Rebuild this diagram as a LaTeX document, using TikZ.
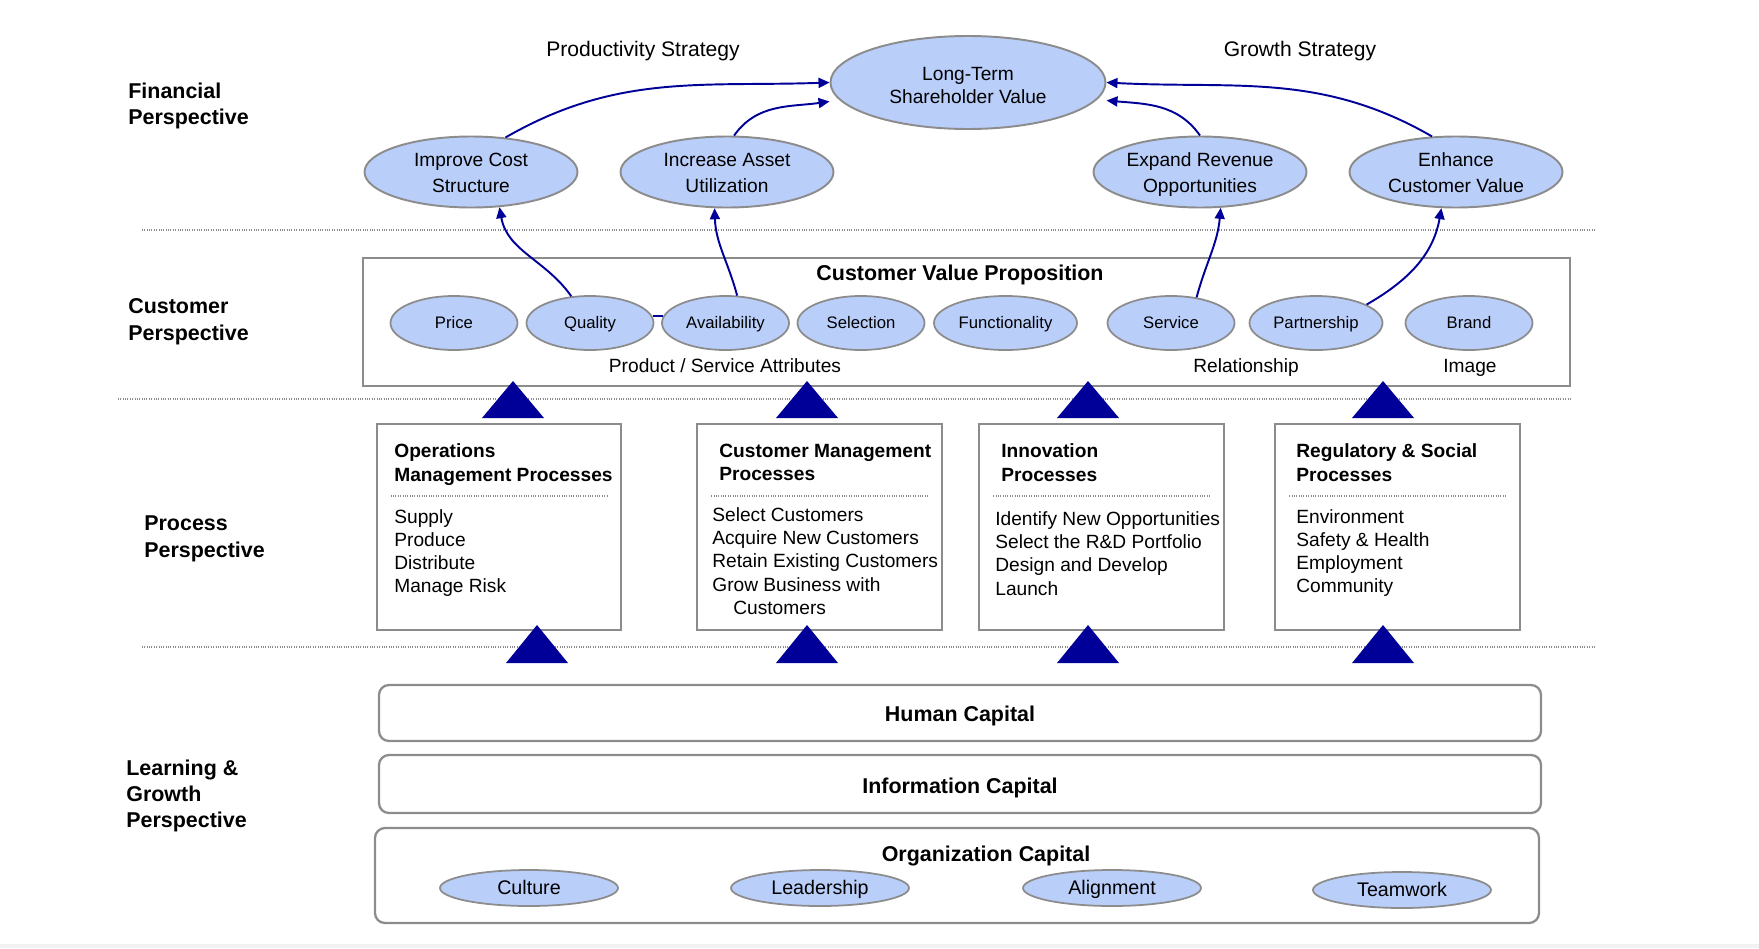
\documentclass[tikz,border=0pt]{standalone}
\usepackage{fontspec}
\setmainfont{Liberation Sans}
\usetikzlibrary{arrows.meta,calc,shapes.geometric}
\definecolor{navy}{RGB}{0,0,153}
\definecolor{oval}{RGB}{186,206,250}
\definecolor{rim}{RGB}{140,140,140}
\tikzset{
  persp/.style={anchor=west,align=left,inner sep=0pt,font=\fontsize{12.2}{15}\selectfont\bfseries},
  strat/.style={inner sep=0pt,text height=1.04em,text depth=.21em,font=\fontsize{12}{14}\selectfont},
  goal/.style={ellipse,draw=rim,line width=1.1pt,fill=oval,inner sep=0pt,align=center,text height=23.5pt,text depth=0pt,
    minimum width=42.6mm,minimum height=14.2mm,font=\fontsize{10.9}{14.6}\selectfont},
  attr/.style={ellipse,draw=rim,line width=1pt,fill=oval,inner sep=0pt,text height=.9em,text depth=.22em,
    minimum width=25.4mm,minimum height=10.8mm,font=\fontsize{9.5}{11}\selectfont},
  talent/.style={ellipse,draw=rim,line width=1pt,fill=oval,inner sep=0pt,text height=.92em,text depth=.22em,
    minimum width=35.6mm,minimum height=7.2mm,font=\fontsize{11.2}{13}\selectfont},
  procbox/.style={draw=rim,line width=1.2pt,minimum width=48.9mm,minimum height=41.2mm},
  ptitle/.style={anchor=west,align=left,inner sep=0pt,font=\fontsize{10.9}{13.3}\selectfont\bfseries},
  pitems/.style={anchor=west,align=left,inner sep=0pt,font=\fontsize{10.9}{13.2}\selectfont},
  label/.style={inner sep=0pt,text height=.95em,text depth=.22em,font=\fontsize{10.9}{13}\selectfont},
  bighead/.style={inner sep=0pt,text height=.93em,text depth=.21em,font=\fontsize{12.2}{14}\selectfont\bfseries},
  captl/.style={draw=rim,line width=1.3pt,rounded corners=2mm,minimum width=232.4mm,
    text height=1.14em,text depth=.21em,font=\fontsize{12.2}{14}\selectfont\bfseries},
  link/.style={navy,line width=1.1pt,-{Triangle[length=2.2mm,width=2mm]}},
  sep/.style={rim,line width=0.7pt,dash pattern=on 0.45pt off 0.9pt},
}
\begin{document}
\begin{tikzpicture}[x=0.2mm,y=0.2mm]
\useasboundingbox (0,0) rectangle (1759,-948);
\fill[gray!10] (0,-944) rectangle (1759,-948);

\node[persp] (fin) at (128,-105.7) {Financial\\Perspective};
\node[persp] (cus) at (128,-321.8) {Customer\\Perspective};
\node[persp] (pro) at (144,-538.8) {Process\\Perspective};
\node[persp] (lrn) at (126,-796) {Learning \&\\Growth\\Perspective};

\draw[sep] (142,-230) -- (1595,-230);
\draw[sep] (118,-399) -- (1570,-399);
\draw[sep] (142,-647) -- (1595,-647);

\node[strat] (prod) at (643,-49.1) {Productivity Strategy};
\node[strat] (grow) at (1300,-49.1) {Growth Strategy};

\node[goal,minimum width=55mm,minimum height=18.6mm,font=\fontsize{10.9}{13}\selectfont] (ltsv) at (968,-82.5) {Long-Term\\Shareholder Value};
\node[goal] (cost) at (471,-172) {Improve Cost\\Structure};
\node[goal] (asset) at (727,-172) {Increase Asset\\Utilization};
\node[goal] (revenue) at (1200,-172) {Expand Revenue\\Opportunities};
\node[goal] (custval) at (1456,-172) {Enhance\\Customer Value};

\node[draw=rim,line width=1.2pt,minimum width=241.4mm,minimum height=25.6mm] (cvp) at (966.5,-322) {};
\node[bighead] (cvptitle) at (960,-274.1) {Customer Value Proposition};
\node[attr] (price) at (454,-323) {Price};
\node[attr] (quality) at (590,-323) {Quality};
\node[attr] (avail) at (725.5,-323) {Availability};
\node[attr] (select) at (861,-323) {Selection};
\node[attr,minimum width=28.6mm] (funct) at (1005.5,-323) {Functionality};
\node[attr] (service) at (1171,-323) {Service};
\node[attr,minimum width=26.6mm] (partner) at (1316,-323) {Partnership};
\node[attr] (brand) at (1469,-323) {Brand};
\node[label] (psa) at (725,-366) {Product / Service Attributes};
\node[label] (rel) at (1246,-366) {Relationship};
\node[label] (img) at (1470,-366) {Image};

\draw[navy,line width=1.2pt] (quality.6) -- (avail.174);
\draw[link] (quality.125) to[out=125,in=-80] (cost.309);
\draw[link] (avail.67) to[out=105,in=-88] (asset.251);
\draw[link] (service.45) to[out=75,in=-95] (revenue.300);
\draw[link] (partner.20) to[out=30,in=-100] (custval.248);
\draw[link] (cost.45) to[out=30,in=182] (ltsv.west);
\draw[link] (asset.79) to[out=55,in=188] ($(ltsv.west)+(0,-19)$);
\draw[link] (revenue.north) to[out=125,in=-5] ($(ltsv.east)+(0,-18)$);
\draw[link] (custval.124) to[out=150,in=-3] (ltsv.east);

\node[procbox] (ops) at (499,-527) {};
\node[procbox] (cmp) at (819.5,-527) {};
\node[procbox] (inno) at (1101.5,-527) {};
\node[procbox] (regs) at (1397.5,-527) {};
\foreach \b in {ops,cmp,inno,regs}
  \draw[sep] ($(\b.north west)+(15,-73)$) -- ($(\b.north east)+(-14,-73)$);

\node[ptitle] (opst) at (394,-464.5) {Operations\\Management Processes};
\node[pitems] (opsi) at (394,-553.2) {Supply\\Produce\\Distribute\\Manage Risk};
\node[ptitle] (cmpt) at (719,-462.5) {Customer Management\\Processes};
\node[pitems] (cmpi) at (712,-561) {Select Customers\\Acquire New Customers\\Retain Existing Customers\\Grow Business with\\\hspace*{4.2mm}Customers};
\node[ptitle] (innot) at (1001,-462.5) {Innovation\\Processes};
\node[pitems] (innoi) at (995,-553.5) {Identify New Opportunities\\Select the R\&D Portfolio\\Design and Develop\\Launch};
\node[ptitle] (regst) at (1296,-462.5) {Regulatory \& Social\\Processes};
\node[pitems] (regsi) at (1296,-553.2) {Environment\\Safety \& Health\\Employment\\Community};

\foreach \x in {513,807,1088,1383}
  \fill[navy] (\x-31,-418) -- (\x,-381) -- (\x+31,-418) -- cycle;
\foreach \x in {537,807,1088,1383}
  \fill[navy] (\x-31,-663) -- (\x,-625) -- (\x+31,-663) -- cycle;

\node[captl,minimum height=11.2mm] (human) at (960,-713) {Human Capital};
\node[captl,minimum height=11.6mm,text height=1.24em] (info) at (960,-784) {Information Capital};
\node[captl,minimum width=232.8mm,minimum height=19mm] (org) at (957,-875.5) {};
\node[bighead] (orgt) at (986,-855) {Organization Capital};
\node[talent] (culture) at (529,-888) {Culture};
\node[talent] (lead) at (820,-888) {Leadership};
\node[talent] (align) at (1112,-888) {Alignment};
\node[talent] (team) at (1402,-890) {Teamwork};
\end{tikzpicture}
\end{document}
